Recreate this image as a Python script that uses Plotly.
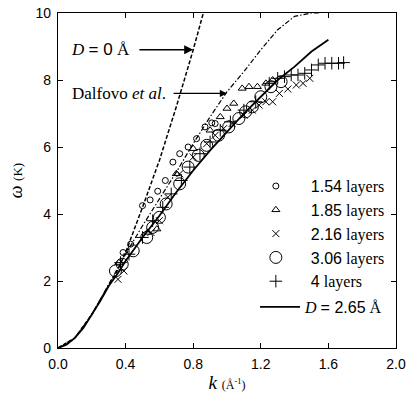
import plotly.graph_objects as go

# ---- theory curves ----
k_solid = [0, 0.05, 0.1, 0.15, 0.2, 0.25, 0.3, 0.35, 0.4, 0.5, 0.6, 0.7, 0.8, 0.9, 1.0, 1.1, 1.2, 1.3, 1.4, 1.5, 1.6]
w_solid = [0, 0.1, 0.3, 0.6, 1.0, 1.4, 1.85, 2.2, 2.6, 3.3, 3.95, 4.65, 5.3, 5.9, 6.45, 7.0, 7.5, 8.0, 8.4, 8.85, 9.2]

k_d0 = [0, 0.1, 0.2, 0.3, 0.35, 0.4, 0.45, 0.5, 0.6, 0.7, 0.8, 0.86]
w_d0 = [0, 0.3, 1.0, 1.85, 2.3, 2.85, 3.5, 4.2, 5.6, 7.2, 8.9, 10.0]

k_dal = [0, 0.1, 0.2, 0.3, 0.4, 0.5, 0.6, 0.7, 0.8, 0.9, 1.0, 1.1, 1.2, 1.3, 1.4, 1.5, 1.55]
w_dal = [0, 0.3, 1.0, 1.9, 2.8, 3.65, 4.45, 5.25, 6.1, 6.9, 7.65, 8.25, 8.9, 9.5, 9.9, 10.0, 10.0]

# ---- measured data ----
k_154 = [0.385, 0.43, 0.50, 0.545, 0.59, 0.635, 0.68, 0.72, 0.77, 0.82, 0.87, 0.91, 0.93]
w_154 = [2.85, 3.1, 4.25, 4.42, 4.68, 5.0, 5.55, 5.8, 6.0, 6.25, 6.6, 6.72, 6.7]

k_185 = [0.36, 0.53, 0.585, 0.7, 0.8, 0.9, 0.96, 1.0, 1.04, 1.09, 1.13, 1.18, 1.23, 1.27]
w_185 = [2.55, 3.45, 3.55, 5.2, 5.95, 6.5, 6.9, 7.15, 7.3, 7.75, 7.8, 7.8, 7.9, 8.0]

k_216 = [0.355, 0.39, 0.55, 0.6, 0.65, 0.72, 0.8, 0.88, 0.93, 0.98, 1.03, 1.1, 1.15, 1.19, 1.23, 1.27, 1.31, 1.36, 1.41, 1.45, 1.49]
w_216 = [2.05, 2.3, 3.45, 3.8, 4.5, 5.2, 5.7, 6.1, 6.35, 6.55, 6.7, 6.95, 7.1, 7.25, 7.35, 7.35, 7.6, 7.73, 7.85, 7.9, 8.05]

k_306 = [0.34, 0.38, 0.445, 0.525, 0.56, 0.6, 0.64, 0.72, 0.77, 0.83, 0.88, 0.95, 1.01, 1.07, 1.11, 1.15, 1.2, 1.26, 1.32]
w_306 = [2.3, 2.5, 2.9, 3.3, 3.6, 3.9, 4.3, 4.9, 5.4, 5.75, 6.05, 6.35, 6.6, 6.85, 7.05, 7.2, 7.5, 7.8, 7.95]

k_4 = [0.37, 0.42, 0.5, 0.56, 0.62, 0.67, 0.73, 0.78, 0.84, 0.9, 0.96, 1.02, 1.1, 1.17, 1.25, 1.3, 1.34, 1.38, 1.42, 1.46, 1.5, 1.54, 1.58, 1.62, 1.66, 1.69]
w_4 = [2.55, 2.8, 3.3, 3.8, 4.2, 4.6, 5.0, 5.4, 5.8, 6.15, 6.5, 6.75, 7.1, 7.35, 7.9, 8.05, 8.1, 8.15, 8.15, 8.2, 8.3, 8.45, 8.5, 8.5, 8.5, 8.52]

x_ticks = [0.0, 0.4, 0.8, 1.2, 1.6, 2.0]
y_ticks = [0, 2, 4, 6, 8, 10]

SANS = "Liberation Sans"
SERIF = "Liberation Serif"

def lab(num):
    return f"<span style='font-family:{SANS}'>{num}</span> layers"

fig = go.Figure()
fig.add_trace(go.Scatter(x=k_d0, y=w_d0, mode="lines", showlegend=False,
                         line=dict(color="black", width=1.5, dash="4px,2px")))
fig.add_trace(go.Scatter(x=k_dal, y=w_dal, mode="lines", showlegend=False,
                         line=dict(color="black", width=1.2, dash="5px,2px,1.5px,2px")))

mk = dict(color="black", line=dict(color="black", width=1))
series = [
    (k_154, w_154, "1.54", "circle-open", 6),
    (k_185, w_185, "1.85", "triangle-up-open", 7),
    (k_216, w_216, "2.16", "x-thin-open", 7),
    (k_306, w_306, "3.06", "circle-open", 12),
    (k_4, w_4, "4", "cross-thin-open", 9),
]
for i, (kx, wy, num, sym, sz) in enumerate(series):
    fig.add_trace(go.Scatter(x=kx, y=wy, mode="markers", name=lab(num), legendgroup=f"g{i}",
                             marker=dict(symbol=sym, size=sz, **mk)))
fig.add_trace(go.Scatter(x=k_solid, y=w_solid, mode="lines", legend="legend2",
                         name=f"<i>D</i> <span style='font-family:{SANS}'>= 2.65</span> Å",
                         line=dict(color="black", width=1.8)))

axis_common = dict(showline=True, linecolor="black", linewidth=1.2, mirror="allticks",
                   ticks="inside", ticklen=5, tickcolor="black", showgrid=False,
                   zeroline=False, automargin=False, ticklabelstandoff=3,
                   tickfont=dict(family=SANS, size=14, color="black"))

fig.update_xaxes(range=[0, 2.0], tickvals=x_ticks, ticktext=[f"{v:.1f}" for v in x_ticks],
                 title=dict(text="<i>k</i> <span style='font-size:12px'>(Å<sup>-1</sup>)</span>",
                            font=dict(family=SERIF, size=19, color="black"), standoff=4),
                 **axis_common)
fig.update_yaxes(range=[0, 10], tickvals=y_ticks, ticktext=[str(v) for v in y_ticks],
                 title=dict(text="<i>ω</i> <span style='font-size:13px'>(K)</span>",
                            font=dict(family=SERIF, size=18, color="black"), standoff=8),
                 **axis_common)

# arrows and labels
fig.add_annotation(x=0.80, y=8.9, ax=0.473, ay=8.9, axref="x", ayref="y", xref="x", yref="y",
                   text="", showarrow=True, arrowhead=2, arrowsize=1.2, arrowwidth=1.5, arrowcolor="black")
fig.add_annotation(x=0.438, y=8.9, xref="x", yref="y", xanchor="right", yanchor="middle",
                   text=f"<i>D</i> <span style='font-family:{SANS}'>= 0</span> Å", showarrow=False,
                   font=dict(family=SERIF, size=17, color="black"))
fig.add_annotation(x=1.0, y=7.6, ax=0.675, ay=7.6, axref="x", ayref="y", xref="x", yref="y",
                   text="", showarrow=True, arrowhead=2, arrowsize=1.2, arrowwidth=1.2, arrowcolor="black")
fig.add_annotation(x=0.65, y=7.6, xref="x", yref="y", xanchor="right", yanchor="middle",
                   text="Dalfovo <i>et al</i>.", showarrow=False,
                   font=dict(family=SERIF, size=17, color="black"))

fig.update_layout(
    width=407, height=407,
    margin=dict(l=58, r=11, t=13, b=59),
    paper_bgcolor="white", plot_bgcolor="white",
    showlegend=True,
    legend=dict(x=0.541, y=0.534, xanchor="left", yanchor="top", bgcolor="rgba(0,0,0,0)",
                font=dict(family=SERIF, size=16, color="black"), itemwidth=60,
                tracegroupgap=0, traceorder="grouped"),
    legend2=dict(x=0.583, y=0.173, xanchor="left", yanchor="top", bgcolor="rgba(0,0,0,0)",
                 font=dict(family=SERIF, size=16, color="black"), itemwidth=40),
)

# remove the browser's default 8px body margin so the figure sits at the window corner
fig.write_html("out.html",
               config={"displayModeBar": False},
               post_script="document.body.style.margin='0px'; document.body.style.overflow='hidden';")
